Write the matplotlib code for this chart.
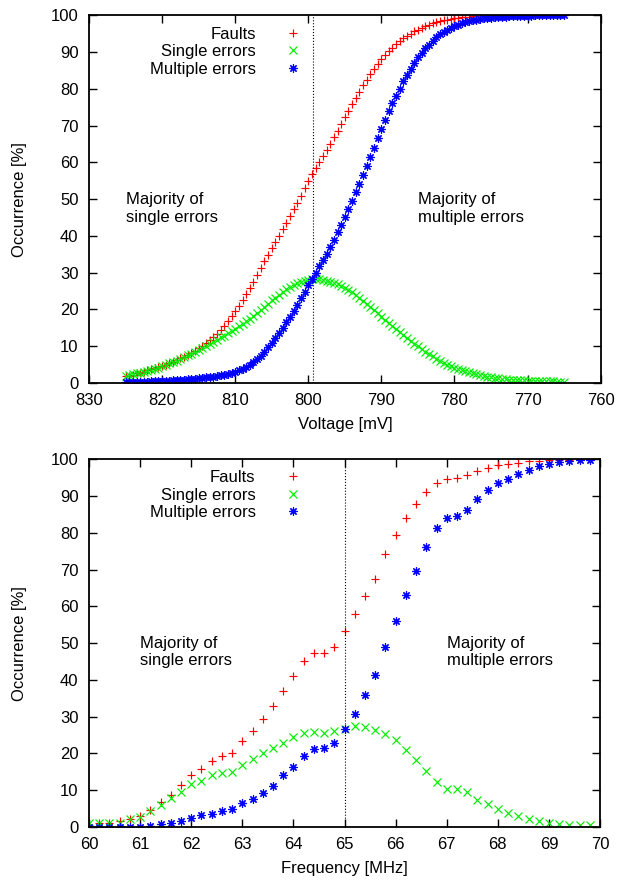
"""
Fault / error occurrence versus supply voltage and clock frequency
"""
import numpy as np
import matplotlib
matplotlib.use("Agg")
import matplotlib.pyplot as plt

plt.rcParams["font.family"] = ["Liberation Sans", "DejaVu Sans"]
plt.rcParams["font.size"] = 12

# ---- voltage sweep (825 mV down to 765 mV, 0.5 mV steps) ----
voltage = np.arange(825.0, 764.9, -0.5)
volt_faults = [
    1.8, 2.0, 2.3, 2.6, 2.8, 3.1, 3.4, 3.7, 4.0, 4.3,
    4.6, 5.0, 5.3, 5.8, 6.2, 6.7, 7.1, 7.7, 8.2, 8.8,
    9.4, 10.1, 10.8, 11.6, 12.4, 13.4, 14.4, 15.6, 16.8, 18.2,
    19.6, 21.0, 22.5, 24.2, 25.8, 27.5, 29.4, 31.3, 33.2, 34.9,
    36.6, 38.3, 40.0, 41.8, 43.5, 45.5, 47.4, 49.0, 50.8, 52.9,
    55.0, 56.8, 58.4, 60.0, 61.6, 63.4, 65.0, 66.8, 68.6, 70.4,
    72.2, 74.0, 75.8, 77.5, 79.2, 80.9, 82.5, 84.0, 85.4, 86.8,
    88.0, 89.2, 90.2, 91.2, 92.1, 92.9, 93.7, 94.4, 95.0, 95.6,
    96.1, 96.6, 97.0, 97.4, 97.8, 98.1, 98.4, 98.6, 98.8, 99.0,
    99.1, 99.3, 99.4, 99.5, 99.6, 99.7, 99.7, 99.8, 99.8, 99.9,
    99.9, 99.9, 100, 100, 100, 100, 100, 100, 100, 100,
    100, 100, 100, 100, 100, 100, 100, 100, 100, 100,
    100,
]
volt_single = [
    2.0, 2.2, 2.4, 2.6, 2.8, 3.0, 3.3, 3.6, 3.9, 4.2,
    4.5, 4.9, 5.3, 5.7, 6.1, 6.5, 7.0, 7.5, 8.0, 8.5,
    9.0, 9.5, 10.1, 10.6, 11.2, 11.8, 12.4, 12.9, 13.5, 14.1,
    14.7, 15.4, 16.0, 16.8, 17.5, 18.2, 19.0, 19.8, 20.7, 21.6,
    22.5, 23.2, 24.0, 24.8, 25.5, 26.1, 26.7, 27.1, 27.5, 27.8,
    28.0, 28.2, 28.3, 28.2, 28.0, 27.8, 27.5, 27.2, 26.8, 26.4,
    25.9, 25.3, 24.6, 23.9, 23.2, 22.4, 21.6, 20.7, 19.8, 18.9,
    18.0, 17.2, 16.4, 15.5, 14.7, 13.9, 13.1, 12.3, 11.5, 10.7,
    10.0, 9.2, 8.5, 7.8, 7.2, 6.6, 6.0, 5.5, 5.0, 4.6,
    4.2, 3.8, 3.5, 3.2, 2.9, 2.6, 2.4, 2.1, 1.9, 1.7,
    1.5, 1.4, 1.3, 1.1, 1.0, 0.9, 0.9, 0.8, 0.7, 0.7,
    0.6, 0.6, 0.5, 0.5, 0.5, 0.4, 0.4, 0.4, 0.3, 0.3,
    0.3,
]
volt_multiple = [
    0.2, 0.2, 0.2, 0.3, 0.3, 0.3, 0.3, 0.4, 0.4, 0.4,
    0.5, 0.5, 0.6, 0.7, 0.7, 0.8, 0.9, 1.0, 1.1, 1.2,
    1.3, 1.4, 1.5, 1.6, 1.7, 1.9, 2.1, 2.3, 2.5, 2.8,
    3.0, 3.4, 3.8, 4.3, 4.9, 5.6, 6.4, 7.4, 8.5, 9.7,
    11.0, 12.2, 13.5, 15.0, 16.5, 18.0, 19.5, 21.2, 23.0, 24.8,
    26.5, 28.2, 30.0, 31.7, 33.5, 35.2, 37.0, 39.0, 41.0, 43.0,
    45.0, 47.2, 49.5, 51.8, 54.0, 56.5, 59.0, 61.5, 64.0, 66.5,
    69.0, 71.5, 74.0, 76.0, 78.0, 80.0, 82.0, 83.8, 85.5, 87.0,
    88.5, 89.8, 91.0, 92.0, 93.0, 94.0, 94.8, 95.4, 96.0, 96.5,
    97.0, 97.4, 97.8, 98.1, 98.4, 98.6, 98.8, 99.0, 99.1, 99.2,
    99.3, 99.4, 99.5, 99.6, 99.6, 99.7, 99.8, 99.8, 99.8, 99.9,
    99.9, 99.9, 100, 100, 100, 100, 100, 100, 100, 100,
    100,
]
volt_split = 799.3

# ---- frequency sweep (60 MHz to 69.8 MHz, 0.2 MHz steps) ----
freq = np.arange(60.0, 69.85, 0.2)
freq_faults = [
    0.5, 1.0, 1.0, 1.5, 2.3, 3.0, 4.5, 6.8, 8.8, 11.3,
    14.0, 15.7, 17.8, 19.2, 20.1, 23.4, 26.0, 29.4, 32.8, 36.9,
    41.0, 45.1, 47.2, 47.2, 49.0, 53.3, 58.0, 62.9, 67.5, 74.1,
    79.3, 84.0, 87.9, 91.1, 93.6, 94.5, 95.0, 95.6, 96.7, 97.5,
    98.4, 98.6, 99.0, 99.4, 99.5, 99.7, 99.8, 99.9, 100, 100,
]
freq_single = [
    1.0, 1.0, 1.0, 1.2, 2.2, 2.8, 4.4, 6.0, 8.0, 9.6,
    11.6, 12.5, 14.2, 14.6, 15.0, 16.9, 18.5, 20.1, 21.4, 22.8,
    24.4, 25.6, 25.7, 25.6, 26.1, 26.6, 27.4, 27.2, 26.3, 25.2,
    23.6, 20.9, 18.1, 15.1, 12.1, 10.4, 10.4, 9.5, 7.4, 6.2,
    4.8, 3.9, 2.9, 2.2, 1.6, 1.2, 0.9, 0.6, 0.5, 0.5,
]
freq_multiple = [
    0.0, 0.0, 0.0, 0.0, 0.0, 0.1, 0.3, 0.8, 1.0, 1.7,
    2.4, 3.2, 3.6, 4.4, 5.0, 6.4, 7.5, 9.2, 11.1, 14.0,
    16.4, 19.4, 21.3, 21.5, 22.8, 26.7, 30.8, 35.8, 41.3, 48.8,
    55.9, 63.2, 69.6, 76.1, 81.4, 84.0, 84.5, 86.1, 89.1, 91.6,
    93.6, 94.6, 96.1, 97.0, 98.1, 98.8, 99.2, 99.5, 99.7, 99.7,
]
freq_split = 65.0

labels = ["Faults", "Single errors", "Multiple errors"]
colors = ["#ff0000", "#00ee00", "#0000ff"]
markers = ["+", "x", (8, 2, 0)]


def draw(ax, x, series, split, xlim, xticks, xlabel, left_txt, right_txt, leg_y):
    for y, lab, c, m in zip(series, labels, colors, markers):
        ax.plot(x, y, linestyle="none", marker=m, markersize=6,
                markeredgewidth=0.85, color=c, label=lab)
    ax.axvline(split, color="black", linestyle=":", linewidth=0.8)
    ax.set_xlim(*xlim)
    ax.set_ylim(0, 100)
    ax.set_xticks(xticks)
    ax.set_yticks(np.arange(0, 101, 10))
    ax.tick_params(direction="in", length=6, width=1, top=True, right=True,
                   labelsize=12)
    ax.tick_params(axis="x", pad=7.5)
    ax.tick_params(axis="y", pad=7.5)
    for s in ax.spines.values():
        s.set_linewidth(1.3)
    ax.set_xlabel(xlabel, fontsize=12)
    ax.set_ylabel("Occurrence [%]", fontsize=12)
    ax.xaxis.set_label_coords(0.5, -0.092)
    ax.yaxis.set_label_coords(-0.121, 0.5)
    ax.text(left_txt[0], left_txt[1], "Majority of\nsingle errors",
            ha="left", va="center", fontsize=12, linespacing=1.2)
    ax.text(right_txt[0], right_txt[1], "Majority of\nmultiple errors",
            ha="left", va="center", fontsize=12, linespacing=1.2)
    leg = ax.legend(loc="upper right", bbox_to_anchor=(0.4147, leg_y),
                    frameon=False, markerfirst=False, numpoints=1,
                    handlelength=1.0, handletextpad=1.72, labelspacing=0.16,
                    fontsize=12, borderaxespad=0, borderpad=0)
    for col in leg._legend_handle_box.get_children():
        col.align = "right"


fig = plt.figure(figsize=(6.18, 8.82), dpi=100)
ax1 = fig.add_axes([0.144, 0.5658, 0.828, 0.417])
ax2 = fig.add_axes([0.144, 0.0624, 0.827, 0.417])

draw(ax1, voltage, [volt_faults, volt_single, volt_multiple], volt_split,
     (830, 760), np.arange(830, 759, -10), "Voltage [mV]",
     (825, 47.4), (785, 47.4), 0.969)
draw(ax2, freq, [freq_faults, freq_single, freq_multiple], freq_split,
     (60, 70), np.arange(60, 71, 1), "Frequency [MHz]",
     (61, 47.6), (67, 47.6), 0.971)

fig.savefig("out.png", dpi=100)
